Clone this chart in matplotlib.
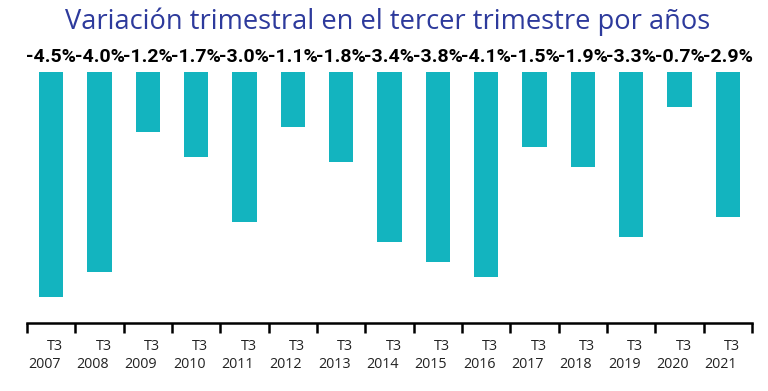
import numpy as np
import matplotlib.pyplot as plt
from matplotlib.transforms import ScaledTranslation, blended_transform_factory

years = ['2007', '2008', '2009', '2010', '2011', '2012', '2013', '2014',
         '2015', '2016', '2017', '2018', '2019', '2020', '2021']
values = [-4.5, -4.0, -1.2, -1.7, -3.0, -1.1, -1.8, -3.4,
          -3.8, -4.1, -1.5, -1.9, -3.3, -0.7, -2.9]
quarter = 'T3'

fig = plt.figure(figsize=(7.68, 3.91), dpi=100)
ax = fig.add_axes([27 / 768, 1 - 323 / 391, 725 / 768, 251 / 391])

x = np.arange(len(values))
ax.bar(x, values, width=0.5, color='#13B4BF')

for xi, v in zip(x, values):
    ax.text(xi, 0.3, f'{v:.1f}%', ha='center', va='center',
            fontsize=14, fontweight='bold', family='Roboto', color='black')

ax.set_xlim(-0.5, len(values) - 0.5)
ax.set_ylim(-5.02, 0)
for s in ['top', 'right', 'left']:
    ax.spines[s].set_visible(False)
ax.spines['bottom'].set_linewidth(1.8)
ax.set_yticks([])

ax.set_xticks(np.arange(-0.5, len(values)))
ax.set_xticklabels([])
ax.tick_params(axis='x', length=7, width=1.8, direction='out')

# etiquetas del eje: T3 arriba, año debajo
trans = blended_transform_factory(ax.transData, ax.transAxes)
dpi = fig.dpi_scale_trans
for xi, y in zip(x, years):
    ax.text(xi, 0, quarter, ha='center', va='center', fontsize=10.3,
            family='Open Sans', color='#222222',
            transform=trans + ScaledTranslation(4 / 100, -23.5 / 100, dpi))
    ax.text(xi, 0, y, ha='center', va='center', fontsize=10.3,
            family='Open Sans', color='#222222',
            transform=trans + ScaledTranslation(-7 / 100, -41.5 / 100, dpi))

fig.text(387.5 / 768, 1 - 22 / 391, 'Variación trimestral en el tercer trimestre por años',
         ha='center', va='center', fontsize=19.6, family='Open Sans', color='#2D3A9C')

fig.savefig('out.png', dpi=100)
